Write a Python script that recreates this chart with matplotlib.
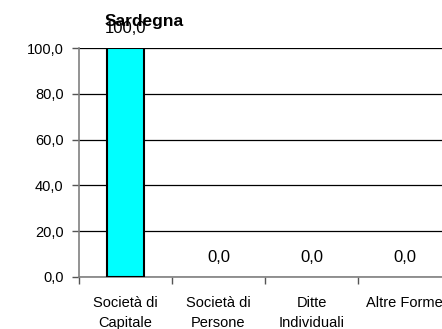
import matplotlib
matplotlib.use("Agg")
import matplotlib.pyplot as plt
import numpy as np

plt.rcParams['font.family'] = ['Liberation Sans', 'DejaVu Sans']

categories = ["Società di\nCapitale", "Società di\nPersone", "Ditte\nIndividuali", "Altre Forme"]
values = [100.0, 0.0, 0.0, 0.0]
yticks = [0, 20, 40, 60, 80, 100]
title = "Sardegna"

W, H = 442, 329
fig = plt.figure(figsize=(W / 100, H / 100), dpi=100)
ax = fig.add_axes([79 / W, (H - 277) / H, (451 - 79) / W, (277 - 48) / H])

x = np.arange(len(categories))
ax.bar(x, values, width=0.4, color="#00FFFF", edgecolor="black",
       linewidth=[1.5 if v > 0 else 0 for v in values], zorder=3)

for xi, v in zip(x, values):
    ax.annotate(f"{v:.1f}".replace(".", ","), (xi, v), xytext=(0, 10.8),
                textcoords="offset points", ha="center", va="baseline", fontsize=12)

ax.set_xlim(-0.5, len(categories) - 0.5)
ax.set_ylim(0, 100)
ax.set_yticks(yticks)
ax.set_yticklabels([f"{t:.1f}".replace(".", ",") for t in yticks], fontsize=10.5)
ax.yaxis.grid(True, color="black", linewidth=0.9, zorder=0)
ax.set_axisbelow(True)

ax.set_xticks(x)
ax.set_xticklabels(categories, fontsize=10.5, linespacing=1.5)
ax.set_xticks(np.arange(len(categories) + 1) - 0.5, minor=True)
ax.tick_params(axis="x", which="major", length=0, pad=14)
ax.tick_params(axis="x", which="minor", length=5, color="#555555", width=1)
ax.tick_params(axis="y", length=5, color="#555555", width=1, pad=6)

for s in ["top", "right"]:
    ax.spines[s].set_visible(False)
for s in ["left", "bottom"]:
    ax.spines[s].set_color("#808080")
    ax.spines[s].set_linewidth(1.2)

fig.text(144 / W, (H - 26) / H, title, ha="center", va="baseline", fontsize=12.5, fontweight="bold")

fig.savefig("out.png", dpi=100)
